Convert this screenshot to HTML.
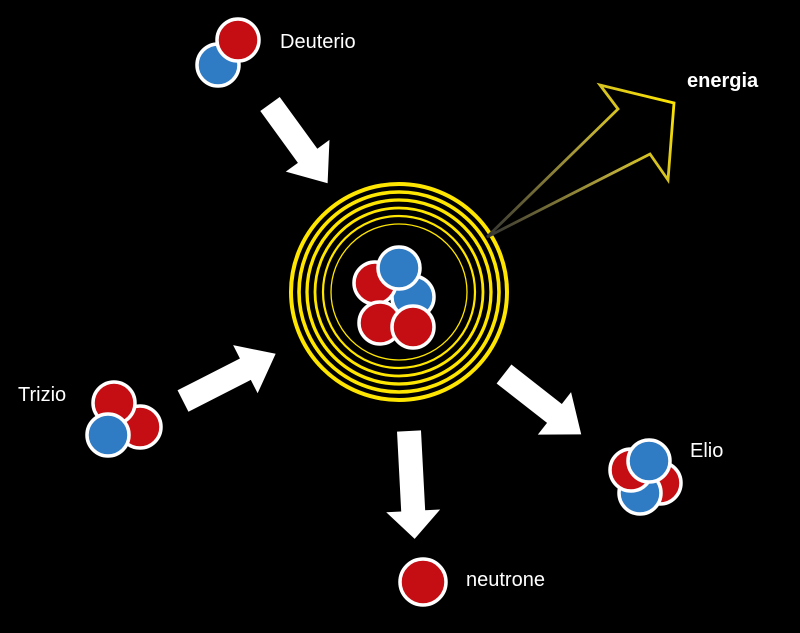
<!DOCTYPE html>
<html><head><meta charset="utf-8"><style>
html,body{margin:0;padding:0;background:#000;}
svg{display:block}
text{font-family:"Liberation Sans",sans-serif;fill:#fff;font-size:20px}
</style></head><body>
<svg width="800" height="633" viewBox="0 0 800 633">
<rect width="800" height="633" fill="#000"/>
<defs>
<linearGradient id="eg" x1="487" y1="237" x2="674" y2="100" gradientUnits="userSpaceOnUse">
<stop offset="0" stop-color="#333"/><stop offset="0.6" stop-color="#b8a83a"/><stop offset="1" stop-color="#ffe600"/>
</linearGradient>
</defs>
<g fill="none" stroke="#ffe600">
<circle cx="399" cy="292" r="108" stroke-width="4"/>
<circle cx="399" cy="292" r="100" stroke-width="3.6"/>
<circle cx="399" cy="292" r="92" stroke-width="3.3"/>
<circle cx="399" cy="292" r="84" stroke-width="2.8"/>
<circle cx="399" cy="292" r="76" stroke-width="2.2"/>
<circle cx="399" cy="292" r="68" stroke-width="1.3"/>
</g>
<polygon points="487,237 618,109 600,85 674,103 668,180 650,154" fill="none" stroke="url(#eg)" stroke-width="2.8" stroke-linejoin="miter"/>
<g fill="#fff">
<polygon points="0,-12 64,-12 64,-27 98,0 64,27 64,12 0,12" transform="translate(270,104) rotate(54)"/>
<polygon points="0,-12 70,-12 70,-27 104,0 70,27 70,12 0,12" transform="translate(183,401) rotate(-27)"/>
<polygon points="0,-12 80,-12 80,-27 108,0 80,27 80,12 0,12" transform="translate(409,431) rotate(87)"/>
<polygon points="0,-12 64,-12 64,-27 98,0 64,27 64,12 0,12" transform="translate(504,374) rotate(38)"/>
</g>
<g stroke="#fff" stroke-width="3.5">
<circle cx="218" cy="65" r="21" fill="#2f7bc4"/>
<circle cx="238" cy="40" r="21" fill="#c40e13"/>
<circle cx="140" cy="427" r="21" fill="#c40e13"/>
<circle cx="114" cy="403" r="21" fill="#c40e13"/>
<circle cx="108" cy="435" r="21" fill="#2f7bc4"/>
<circle cx="413" cy="297" r="21" fill="#2f7bc4"/>
<circle cx="375" cy="283" r="21" fill="#c40e13"/>
<circle cx="399" cy="268" r="21" fill="#2f7bc4"/>
<circle cx="380" cy="323" r="21" fill="#c40e13"/>
<circle cx="413" cy="327" r="21" fill="#c40e13"/>
<circle cx="660" cy="483" r="21" fill="#c40e13"/>
<circle cx="640" cy="493" r="21" fill="#2f7bc4"/>
<circle cx="631" cy="470" r="21" fill="#c40e13"/>
<circle cx="649" cy="461" r="21" fill="#2f7bc4"/>
<circle cx="423" cy="582" r="23" fill="#c40e13"/>
</g>
<text x="280" y="48">Deuterio</text>
<text x="687" y="87" style="font-weight:bold">energia</text>
<text x="18" y="401">Trizio</text>
<text x="690" y="457">Elio</text>
<text x="466" y="586">neutrone</text>
</svg>
</body></html>
